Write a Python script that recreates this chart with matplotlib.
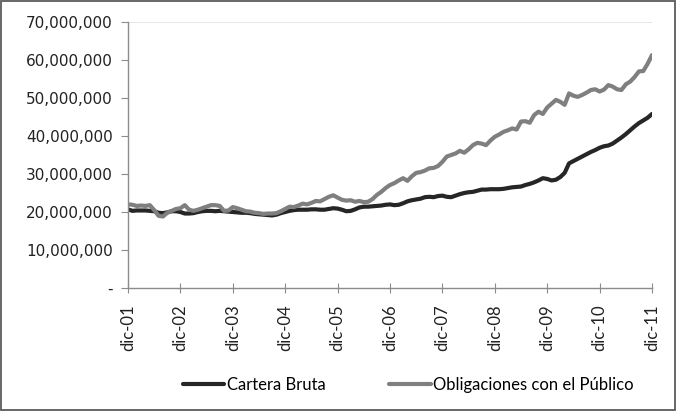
import numpy as np
import matplotlib.pyplot as plt
from matplotlib.ticker import FuncFormatter
from matplotlib.patches import Rectangle

# monthly series, dic-01 .. dic-11 (millions)
cartera = [20.7, 20.3, 20.4, 20.4, 20.4, 20.3, 20.2, 19.8, 19.7, 19.9, 20.2, 20.2,
           20.0, 19.6, 19.6, 19.7, 20.0, 20.2, 20.3, 20.3, 20.2, 20.3, 20.2, 20.1,
           20.0, 19.9, 19.8, 19.8, 19.7, 19.5, 19.4, 19.3, 19.2, 19.1, 19.3, 19.7,
           20.0, 20.3, 20.5, 20.6, 20.6, 20.6, 20.7, 20.7, 20.6, 20.6, 20.8, 21.0,
           20.9, 20.6, 20.2, 20.3, 20.7, 21.2, 21.4, 21.4, 21.5, 21.6, 21.7, 21.9,
           22.0, 21.8, 21.9, 22.3, 22.8, 23.1, 23.3, 23.5, 23.9, 24.0, 23.9, 24.2,
           24.3, 24.0, 23.9, 24.3, 24.7, 25.0, 25.2, 25.3, 25.6, 25.9, 25.9, 26.0,
           26.0, 26.0, 26.1, 26.3, 26.5, 26.6, 26.7, 27.1, 27.4, 27.8, 28.3, 28.9,
           28.7, 28.3, 28.5, 29.2, 30.3, 32.8, 33.4, 34.0, 34.6, 35.2, 35.8, 36.3,
           36.9, 37.3, 37.5, 38.0, 38.8, 39.6, 40.5, 41.5, 42.5, 43.4, 44.1, 44.8,
           45.8]
obligaciones = [22.0, 21.9, 21.6, 21.7, 21.6, 21.8, 20.5, 19.0, 18.8, 19.8, 20.3, 20.8,
                21.0, 21.8, 20.6, 20.3, 20.6, 21.0, 21.4, 21.8, 21.8, 21.6, 20.3, 20.4,
                21.3, 21.0, 20.6, 20.2, 20.1, 19.8, 19.7, 19.5, 19.6, 19.6, 19.7, 20.2,
                20.8, 21.4, 21.3, 21.7, 22.2, 22.0, 22.4, 22.9, 22.8, 23.4, 24.0, 24.4,
                23.8, 23.2, 23.0, 23.1, 22.7, 22.9, 22.6, 22.7, 23.4, 24.5, 25.3, 26.3,
                27.1, 27.6, 28.3, 28.9, 28.2, 29.4, 30.3, 30.5, 30.9, 31.5, 31.6, 32.1,
                33.2, 34.6, 35.0, 35.4, 36.1, 35.6, 36.5, 37.6, 38.2, 38.0, 37.6, 38.8,
                39.8, 40.4, 41.1, 41.5, 42.0, 41.7, 43.8, 43.9, 43.5, 45.5, 46.4, 45.8,
                47.5, 48.5, 49.5, 49.0, 48.2, 51.2, 50.6, 50.3, 50.8, 51.4, 52.1, 52.3,
                51.7, 52.2, 53.4, 53.0, 52.3, 52.1, 53.6, 54.3, 55.5, 57.0, 57.1, 59.0,
                61.3]
xlabels = ['dic-01', 'dic-02', 'dic-03', 'dic-04', 'dic-05', 'dic-06',
           'dic-07', 'dic-08', 'dic-09', 'dic-10', 'dic-11']

cartera = np.array(cartera) * 1e6
obligaciones = np.array(obligaciones) * 1e6
x = np.arange(len(cartera))

fig = plt.figure(figsize=(6.77, 4.11), dpi=100)
fig.patches.append(Rectangle((0.002, 0.003), 0.995, 0.994, transform=fig.transFigure,
                             fill=False, edgecolor='#5a5a5a', linewidth=1.3))

ax = fig.add_axes([128 / 677, (411 - 288) / 411, 524 / 677, 266 / 411])
ax.plot(x, cartera, color='#262626', lw=3.0, label='Cartera Bruta', solid_capstyle='round')
ax.plot(x, obligaciones, color='#7f7f7f', lw=3.0, label='Obligaciones con el Público',
        solid_capstyle='round')

ax.set_xlim(0, 120)
ax.set_ylim(0, 70e6)
ax.axhline(70e6, color='#e3e3e3', lw=1.2, zorder=0)

for s in ['top', 'right']:
    ax.spines[s].set_visible(False)
for s in ['left', 'bottom']:
    ax.spines[s].set_color('#8c8c8c')
    ax.spines[s].set_linewidth(1.0)

ax.set_yticks(np.arange(0, 70e6 + 1, 10e6))
ax.yaxis.set_major_formatter(FuncFormatter(lambda v, p: '-' if v == 0 else f'{v:,.0f}'))
ax.set_xticks(np.arange(0, 121, 12))
ax.set_xticklabels(xlabels, rotation=90, family='Lato', fontsize=12)
ax.tick_params(axis='y', direction='out', length=5, color='#8c8c8c', labelsize=11,
               labelcolor='#222222', pad=6)
ax.tick_params(axis='x', direction='inout', length=7, color='#8c8c8c', labelcolor='#222222',
               pad=8)

fig.legend(loc='center', bbox_to_anchor=(0.603, 0.063), ncol=2, frameon=False,
           prop={'family': 'Lato', 'size': 12}, handlelength=2.5, handletextpad=0.15,
           columnspacing=3.8)

plt.savefig('out.png', dpi=100)
